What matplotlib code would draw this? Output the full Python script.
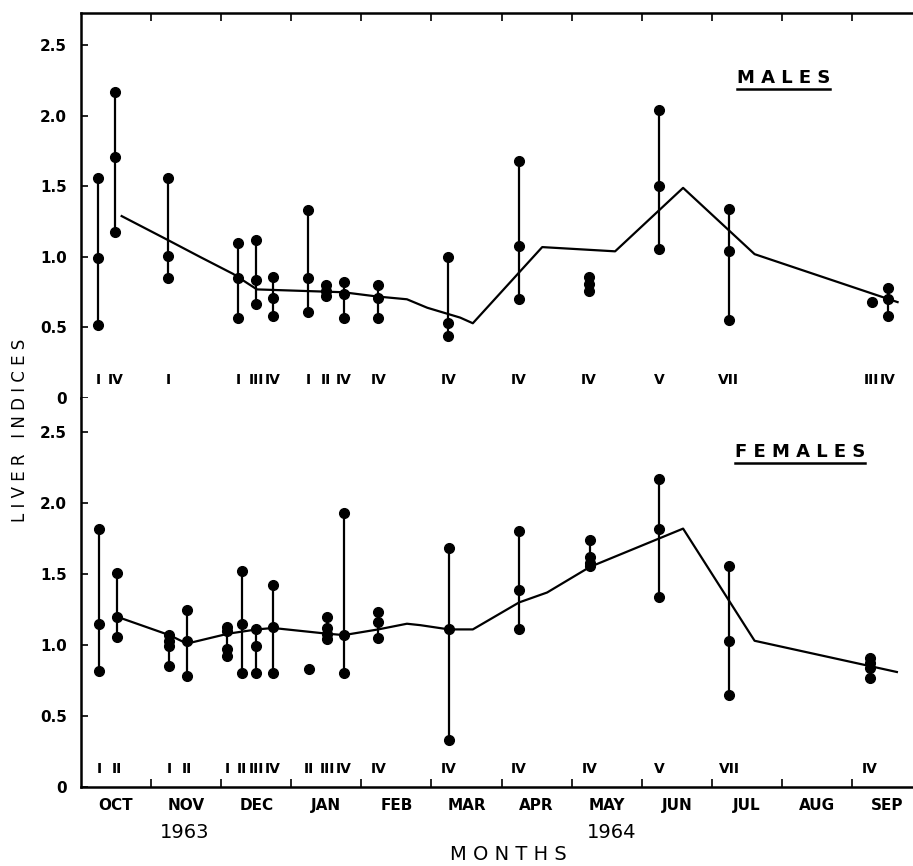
import matplotlib.pyplot as plt

# ============================================================================
# DATA (x in months from 1 Oct 1963)
# ============================================================================
MONTHS = ["OCT", "NOV", "DEC", "JAN", "FEB", "MAR", "APR", "MAY", "JUN", "JUL", "AUG", "SEP"]
Y_TICKS = [0, 0.5, 1.0, 1.5, 2.0, 2.5]
Y_TICK_LABELS = ["0", "0.5", "1.0", "1.5", "2.0", "2.5"]

male_x = [0.24, 0.49, 1.24, 2.24, 2.50, 2.74, 3.24, 3.49, 3.75, 4.24, 5.24, 6.25, 7.25, 8.25, 9.24, 11.28, 11.51]
male_vals = [
    [1.56, 0.99, 0.52],
    [2.17, 1.71, 1.18],
    [1.56, 1.01, 0.85],
    [1.10, 0.85, 0.57],
    [1.12, 0.84, 0.67],
    [0.86, 0.71, 0.58],
    [1.33, 0.85, 0.61],
    [0.80, 0.76, 0.72],
    [0.82, 0.74, 0.57],
    [0.80, 0.71, 0.57],
    [1.00, 0.53, 0.44],
    [1.68, 1.08, 0.70],
    [0.86, 0.81, 0.76],
    [2.04, 1.50, 1.06],
    [1.34, 1.04, 0.55],
    [0.68],
    [0.78, 0.70, 0.58],
]
male_labels = ["I", "IV", "I", "I", "III", "IV", "I", "II", "IV", "IV", "IV", "IV", "IV", "V", "VII", "III", "IV"]
male_line_x = [0.58, 1.24, 1.70, 2.17, 2.51, 3.74, 4.22, 4.65, 4.94, 5.41, 5.59, 6.58, 7.62, 8.59, 9.61, 11.65]
male_line_y = [1.29, 1.12, 1.00, 0.88, 0.77, 0.75, 0.72, 0.70, 0.64, 0.57, 0.53, 1.07, 1.04, 1.49, 1.02, 0.68]

female_x = [0.26, 0.51, 1.26, 1.51, 2.09, 2.30, 2.50, 2.74, 3.25, 3.51, 3.75, 4.24, 5.25, 6.25, 7.26, 8.25, 9.25, 11.25]
female_vals = [
    [1.82, 1.15, 0.82],
    [1.51, 1.20, 1.06],
    [1.07, 1.03, 0.99, 0.85],
    [1.25, 1.03, 0.78],
    [1.13, 1.10, 0.97, 0.92],
    [1.52, 1.15, 0.80],
    [1.11, 0.99, 0.80],
    [1.42, 1.13, 0.80],
    [0.83],
    [1.20, 1.12, 1.08, 1.04],
    [1.93, 1.07, 0.80],
    [1.23, 1.16, 1.05],
    [1.68, 1.11, 0.33],
    [1.80, 1.39, 1.11],
    [1.74, 1.62, 1.58, 1.56],
    [2.17, 1.82, 1.34],
    [1.56, 1.03, 0.65],
    [0.91, 0.87, 0.84, 0.77],
]
female_labels = ["I", "II", "I", "II", "I", "II", "III", "IV", "II", "III", "IV", "IV", "IV", "IV", "IV", "V", "VII", "IV"]
female_line_x = [0.51, 1.26, 1.51, 2.10, 2.51, 2.74, 3.51, 3.75, 4.24, 4.65, 4.84, 5.25, 5.59, 6.25, 6.65, 7.26, 8.59, 9.61, 11.64]
female_line_y = [1.20, 1.07, 1.01, 1.08, 1.11, 1.12, 1.08, 1.07, 1.11, 1.15, 1.14, 1.11, 1.11, 1.30, 1.37, 1.55, 1.82, 1.03, 0.81]

X_MAX = 11.87


def _plot_painel(ax, xs, vals, labels, line_x, line_y, titulo, titulo_pos, ymax):
    """Draws one panel: vertical ranges with dots, mean line, week labels."""
    for x, v, lab in zip(xs, vals, labels):
        if len(v) > 1:
            ax.plot([x, x], [min(v), max(v)], color="black", lw=1.6, zorder=2)
        ax.plot([x] * len(v), v, "o", color="black", ms=7, zorder=3)
        ax.text(x, 0.13, lab, ha="center", va="center", fontsize=10,
                fontweight="bold", family="DejaVu Sans Condensed")
    ax.plot(line_x, line_y, color="black", lw=1.6, zorder=2)

    # underlined panel title, letters spaced like the original
    t = ax.text(titulo_pos[0], titulo_pos[1], " ".join(titulo), transform=ax.transAxes,
                ha="center", va="center", fontsize=13, fontweight="bold")
    ax.figure.canvas.draw()
    bb = t.get_window_extent().transformed(ax.transAxes.inverted())
    ax.plot([bb.x0, bb.x1], [bb.y0 - 0.006, bb.y0 - 0.006], color="black", lw=1.8,
            transform=ax.transAxes, clip_on=False)

    ax.set_xlim(0, X_MAX)
    ax.set_ylim(0, ymax)
    ax.set_yticks(Y_TICKS)
    ax.set_yticklabels(Y_TICK_LABELS, fontsize=11, fontweight="bold")
    ax.tick_params(axis="y", direction="in", length=5, width=1.2, pad=10)
    ax.spines["right"].set_visible(False)
    ax.spines["left"].set_linewidth(1.8)


def main() -> None:
    fig = plt.figure(figsize=(9.13, 8.66), dpi=100)
    left = 81 / 913
    ax_m = fig.add_axes([left, 1 - 398 / 866, 1 - left, 385 / 866])
    ax_f = fig.add_axes([left, 1 - 787 / 866, 1 - left, 389 / 866])

    _plot_painel(ax_m, male_x, male_vals, male_labels, male_line_x, male_line_y,
                 "MALES", (0.844, 0.831), 2.73)
    _plot_painel(ax_f, female_x, female_vals, female_labels, female_line_x, female_line_y,
                 "FEMALES", (0.864, 0.861), 2.74)

    bordas = list(range(1, len(MONTHS)))
    centros = [i + 0.5 for i in range(len(MONTHS))]

    # top panel: month ticks on the top frame only
    ax_m.spines["bottom"].set_visible(False)
    ax_m.spines["top"].set_linewidth(1.8)
    ax_m.set_xticks(bordas)
    ax_m.tick_params(axis="x", top=True, bottom=False, labelbottom=False,
                     direction="in", length=6, width=1.2)

    # bottom panel: month names, boundary ticks pointing up
    ax_f.spines["top"].set_visible(False)
    ax_f.spines["bottom"].set_linewidth(1.8)
    ax_f.set_xticks(centros)
    ax_f.set_xticklabels(MONTHS, fontsize=11, fontweight="bold")
    ax_f.tick_params(axis="x", which="major", length=0, pad=8)
    ax_f.set_xticks(bordas, minor=True)
    ax_f.tick_params(axis="x", which="minor", direction="in", length=6, width=1.2)

    fig.text(185 / 913, 1 - 832 / 866, "1963", ha="center", va="center", fontsize=14)
    fig.text(612 / 913, 1 - 832 / 866, "1964", ha="center", va="center", fontsize=14)
    fig.text(508 / 913, 1 - 855 / 866, "M O N T H S", ha="center", va="center", fontsize=14)
    fig.text(20 / 913, 1 - 430 / 866, "L I V E R   I N D I C E S", ha="center", va="center",
             rotation=90, fontsize=12)

    fig.savefig("out.png", dpi=100)
    plt.close(fig)


if __name__ == "__main__":
    main()
